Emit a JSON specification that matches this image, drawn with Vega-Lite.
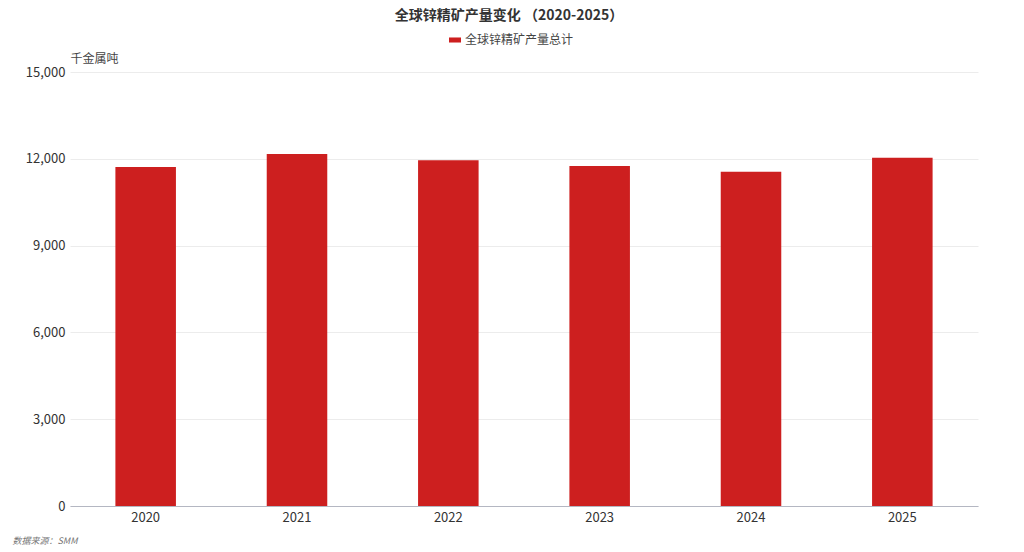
{
  "$schema": "https://vega.github.io/schema/vega-lite/v6.json",
  "autosize": {"type": "none"},
  "width": 908,
  "height": 434,
  "padding": {"left": 70, "top": 72, "right": 46, "bottom": 46},
  "background": "#ffffff",
  "title": {
    "text": "全球锌精矿产量变化  （2020-2025）",
    "anchor": "middle",
    "frame": "group",
    "orient": "top",
    "fontSize": 14,
    "fontWeight": "bold",
    "color": "#333333",
    "font": "Noto Sans CJK SC",
    "dx": -15,
    "offset": 11
  },
  "data": {
    "values": [
      {"year": "2020", "value": 11720, "series": "全球锌精矿产量总计"},
      {"year": "2021", "value": 12170, "series": "全球锌精矿产量总计"},
      {"year": "2022", "value": 11950, "series": "全球锌精矿产量总计"},
      {"year": "2023", "value": 11750, "series": "全球锌精矿产量总计"},
      {"year": "2024", "value": 11550, "series": "全球锌精矿产量总计"},
      {"year": "2025", "value": 12040, "series": "全球锌精矿产量总计"}
    ]
  },
  "mark": {"type": "bar"},
  "encoding": {
    "x": {
      "field": "year",
      "type": "nominal",
      "sort": null,
      "scale": {"paddingInner": 0.6, "paddingOuter": 0.3},
      "axis": {
        "title": "数据来源：SMM",
        "titleFontSize": 9,
        "titleFontStyle": "italic",
        "titleFontWeight": "normal",
        "titleColor": "#777777",
        "titleAnchor": "start",
        "titleAlign": "left",
        "titleBaseline": "middle",
        "titleX": -58,
        "titleY": 34,
        "labelAngle": 0,
        "labelFontSize": 13,
        "labelColor": "#333333",
        "labelPadding": 5,
        "ticks": false,
        "domainColor": "#b4b7c2",
        "domainWidth": 1,
        "grid": false
      }
    },
    "y": {
      "field": "value",
      "type": "quantitative",
      "scale": {"domain": [0, 15000], "nice": false},
      "axis": {
        "title": "千金属吨",
        "titleAngle": 0,
        "titleAlign": "left",
        "titleBaseline": "middle",
        "titleX": 0,
        "titleY": -14,
        "titleFontSize": 12,
        "titleFontWeight": "normal",
        "titleColor": "#444444",
        "values": [0, 3000, 6000, 9000, 12000, 15000],
        "format": ",.0f",
        "labelFontSize": 13,
        "labelColor": "#333333",
        "labelPadding": 5,
        "ticks": false,
        "domain": false,
        "grid": true,
        "gridColor": "#ececec",
        "gridWidth": 1
      }
    },
    "color": {
      "field": "series",
      "type": "nominal",
      "scale": {"range": ["#cd1f1f"]},
      "legend": {
        "title": null,
        "orient": "none",
        "legendX": 379,
        "legendY": -38,
        "direction": "horizontal",
        "padding": 0,
        "symbolType": "M-1,-0.42H1V0.42H-1Z",
        "symbolSize": 144,
        "symbolStrokeWidth": 0,
        "labelFontSize": 12,
        "labelColor": "#444444",
        "labelOffset": 4
      }
    }
  },
  "config": {
    "font": "Noto Sans CJK SC",
    "view": {"stroke": null}
  }
}
